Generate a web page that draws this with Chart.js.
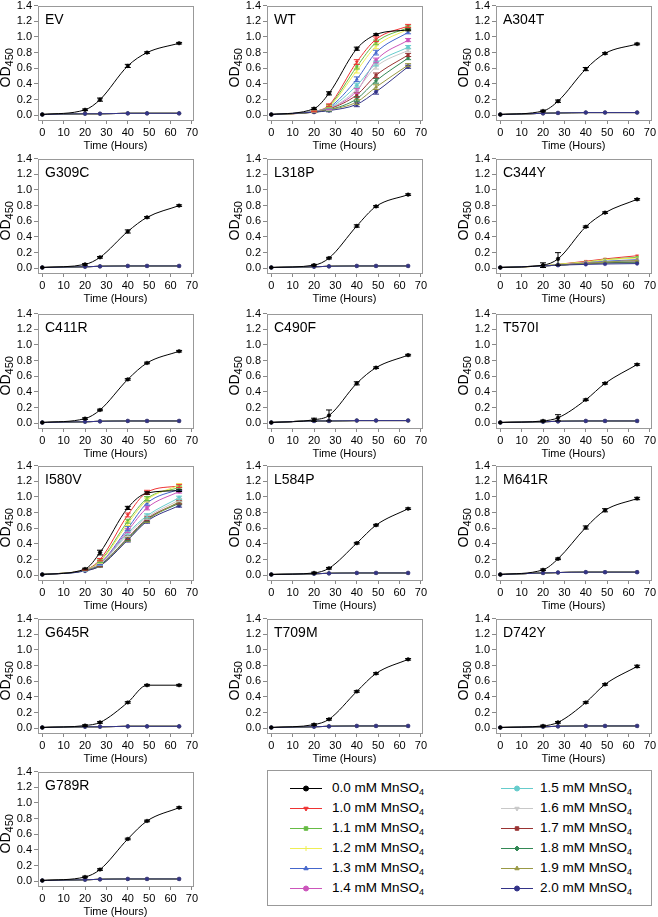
<!DOCTYPE html>
<html>
<head>
<meta charset="utf-8">
<script src="https://cdn.jsdelivr.net/npm/chart.js@4.4.1/dist/chart.umd.min.js"></script>
<style>
  body { margin: 0; background: #fff; width: 658px; height: 917px; position: relative; overflow: hidden;
         font-family: "Liberation Sans", Arial, sans-serif; }
  canvas.panel { position: absolute; }
  #legend { position: absolute; left: 267px; top: 770px; width: 385px; height: 136px;
            border: 1px solid #999; box-sizing: border-box; }
  .item { position: absolute; height: 18px; }
  .item canvas { position: absolute; left: 0; top: 0; }
  .item span { position: absolute; top: 0; line-height: 18px; font-size: 13.5px; white-space: nowrap; color: #000; }
  .item sub { font-size: 9px; vertical-align: -3px; line-height: 0; }
</style>
</head>
<body>
<div id="legend"></div>
<script>
// Time points (hours) and tick labels
const hours = [0, 20, 27, 40, 49, 64];
const xTicks = [0, 10, 20, 30, 40, 50, 60, 70];
const yTicks = [0, 0.2, 0.4, 0.6, 0.8, 1.0, 1.2, 1.4];
const concLabels = ['0.0', '1.0', '1.1', '1.2', '1.3', '1.4', '1.5', '1.6', '1.7', '1.8', '1.9', '2.0'];

// 0.0 mM MnSO4 curves (black) per strain
const ev0 = [0.01, 0.07, 0.20, 0.63, 0.80, 0.92];
const a304t0 = [0.01, 0.055, 0.18, 0.59, 0.79, 0.91];
const g309c0 = [0.01, 0.05, 0.14, 0.47, 0.65, 0.80];
const l318p0 = [0.01, 0.04, 0.13, 0.54, 0.79, 0.94];
const c411r0 = [0.01, 0.06, 0.17, 0.56, 0.77, 0.92];
const c490f0 = [0.01, 0.045, 0.10, 0.51, 0.71, 0.87];
const t570i0 = [0.01, 0.03, 0.07, 0.30, 0.51, 0.75];
const l584p0 = [0.01, 0.03, 0.09, 0.41, 0.64, 0.85];
const m641r0 = [0.01, 0.07, 0.21, 0.61, 0.83, 0.98];
const g645r0 = [0.01, 0.035, 0.075, 0.33, 0.55, 0.55];
const t709m0 = [0.01, 0.047, 0.115, 0.47, 0.70, 0.88];
const d742y0 = [0.01, 0.03, 0.076, 0.33, 0.56, 0.79];
const g789r0 = [0.01, 0.055, 0.15, 0.54, 0.77, 0.94];

// 1.0 - 2.0 mM curves lie on top of each other near zero in these strains
const evLow = [0.01, 0.02, 0.02, 0.025, 0.025, 0.025];
const a304tLow = [0.01, 0.025, 0.03, 0.035, 0.035, 0.035];
const g309cLow = [0.01, 0.02, 0.025, 0.03, 0.03, 0.03];
const l318pLow = [0.01, 0.02, 0.025, 0.03, 0.03, 0.03];
const c411rLow = [0.01, 0.02, 0.025, 0.03, 0.03, 0.03];
const c490fLow = [0.01, 0.03, 0.03, 0.035, 0.035, 0.035];
const t570iLow = [0.01, 0.02, 0.025, 0.03, 0.03, 0.03];
const l584pLow = [0.01, 0.02, 0.025, 0.03, 0.03, 0.03];
const m641rLow = [0.01, 0.03, 0.035, 0.04, 0.04, 0.04];
const g645rLow = [0.01, 0.02, 0.02, 0.025, 0.025, 0.025];
const t709mLow = [0.01, 0.02, 0.025, 0.03, 0.03, 0.03];
const d742yLow = [0.01, 0.02, 0.025, 0.03, 0.03, 0.03];
const g789rLow = [0.01, 0.02, 0.025, 0.03, 0.03, 0.03];

// WT, one list per concentration (0.0 ... 2.0 mM)
const wtSeries = [
  [0.01, 0.085, 0.28, 0.85, 1.03, 1.09],
  [0.01, 0.05, 0.13, 0.68, 0.97, 1.14],
  [0.01, 0.05, 0.12, 0.62, 0.93, 1.12],
  [0.01, 0.05, 0.11, 0.57, 0.88, 1.10],
  [0.01, 0.05, 0.10, 0.46, 0.80, 1.06],
  [0.01, 0.045, 0.09, 0.31, 0.70, 0.96],
  [0.01, 0.045, 0.09, 0.38, 0.66, 0.87],
  [0.01, 0.045, 0.08, 0.33, 0.62, 0.83],
  [0.01, 0.04, 0.08, 0.26, 0.51, 0.77],
  [0.01, 0.04, 0.07, 0.21, 0.44, 0.73],
  [0.01, 0.04, 0.07, 0.17, 0.36, 0.64],
  [0.01, 0.04, 0.06, 0.14, 0.30, 0.62]
];

// I580V
const i580vSeries = [
  [0.01, 0.08, 0.29, 0.86, 1.05, 1.08],
  [0.01, 0.07, 0.20, 0.77, 1.06, 1.14],
  [0.01, 0.07, 0.18, 0.69, 0.98, 1.12],
  [0.01, 0.07, 0.17, 0.66, 0.96, 1.15],
  [0.01, 0.065, 0.15, 0.60, 0.92, 1.10],
  [0.01, 0.065, 0.15, 0.57, 0.86, 1.07],
  [0.01, 0.06, 0.14, 0.54, 0.76, 0.99],
  [0.01, 0.06, 0.14, 0.52, 0.74, 0.96],
  [0.01, 0.06, 0.13, 0.48, 0.72, 0.93],
  [0.01, 0.06, 0.13, 0.47, 0.71, 0.92],
  [0.01, 0.06, 0.12, 0.46, 0.70, 0.94],
  [0.01, 0.055, 0.12, 0.45, 0.69, 0.89]
];

// C344Y
const c344ySeries = [
  [0.01, 0.04, 0.12, 0.53, 0.71, 0.88],
  [0.01, 0.03, 0.05, 0.09, 0.12, 0.16],
  [0.01, 0.03, 0.05, 0.08, 0.11, 0.14],
  [0.01, 0.03, 0.05, 0.08, 0.11, 0.13],
  [0.01, 0.03, 0.04, 0.07, 0.09, 0.11],
  [0.01, 0.03, 0.04, 0.07, 0.08, 0.10],
  [0.01, 0.03, 0.04, 0.06, 0.08, 0.09],
  [0.01, 0.03, 0.04, 0.06, 0.07, 0.08],
  [0.01, 0.03, 0.04, 0.06, 0.07, 0.08],
  [0.01, 0.03, 0.04, 0.06, 0.07, 0.07],
  [0.01, 0.03, 0.04, 0.06, 0.08, 0.10],
  [0.01, 0.03, 0.04, 0.05, 0.055, 0.06]
];

// Error bar half-heights for the black curves
const ev0Err = [0, 0.01, 0.02, 0.02, 0.01, 0.01];
const wt0Err = [0, 0.01, 0.02, 0.02, 0.01, 0.01];
const a304t0Err = [0, 0.01, 0.015, 0.02, 0.01, 0.01];
const g309c0Err = [0, 0.01, 0.01, 0.02, 0.01, 0.01];
const l318p0Err = [0, 0.01, 0.01, 0.015, 0.01, 0.01];
const c344y0Err = [0, 0.03, 0.08, 0.01, 0.01, 0.01];
const c411r0Err = [0, 0.01, 0.01, 0.01, 0.01, 0.01];
const c490f0Err = [0, 0.02, 0.07, 0.02, 0.01, 0.01];
const t570i0Err = [0, 0.01, 0.04, 0.01, 0.01, 0.01];
const i580v0Err = [0, 0.01, 0.03, 0.02, 0.015, 0.01];
const l584p0Err = [0, 0.01, 0.01, 0.01, 0.01, 0.01];
const m641r0Err = [0, 0.01, 0.01, 0.02, 0.02, 0.015];
const g645r0Err = [0, 0.01, 0.01, 0.01, 0.01, 0.01];
const t709m0Err = [0, 0.01, 0.01, 0.01, 0.01, 0.01];
const d742y0Err = [0, 0.01, 0.01, 0.01, 0.01, 0.015];
const g789r0Err = [0, 0.01, 0.01, 0.01, 0.01, 0.01];
// colored curves in WT / I580V
const wtRestErr = [0, 0.005, 0.015, 0.03, 0.03, 0.02];
const i580vRestErr = [0, 0.005, 0.015, 0.025, 0.025, 0.02];

// Series styles
const colors = ['#000000', '#ee3333', '#66bb44', '#eeee55', '#4466cc', '#cc55bb',
                '#66cccc', '#c8c8c8', '#993333', '#338855', '#999944', '#333388'];
const pointStyles = ['circle', 'triangle', 'rect', 'cross', 'triangle', 'circle',
                     'circle', 'triangle', 'rect', 'rectRot', 'triangle', 'circle'];
const pointRotations = [0, 180, 0, 0, 0, 0, 0, 180, 0, 0, 0, 0];

// Black curve + 11 overlapping low curves
function withLow(black, low) {
  const list = [black];
  for (let k = 1; k < concLabels.length; k++) list.push(low);
  return list;
}

const panels = [
  { name: 'EV', series: withLow(ev0, evLow), err0: ev0Err },
  { name: 'WT', series: wtSeries, err0: wt0Err, errRest: wtRestErr },
  { name: 'A304T', series: withLow(a304t0, a304tLow), err0: a304t0Err },
  { name: 'G309C', series: withLow(g309c0, g309cLow), err0: g309c0Err },
  { name: 'L318P', series: withLow(l318p0, l318pLow), err0: l318p0Err },
  { name: 'C344Y', series: c344ySeries, err0: c344y0Err },
  { name: 'C411R', series: withLow(c411r0, c411rLow), err0: c411r0Err },
  { name: 'C490F', series: withLow(c490f0, c490fLow), err0: c490f0Err },
  { name: 'T570I', series: withLow(t570i0, t570iLow), err0: t570i0Err },
  { name: 'I580V', series: i580vSeries, err0: i580v0Err, errRest: i580vRestErr },
  { name: 'L584P', series: withLow(l584p0, l584pLow), err0: l584p0Err },
  { name: 'M641R', series: withLow(m641r0, m641rLow), err0: m641r0Err },
  { name: 'G645R', series: withLow(g645r0, g645rLow), err0: g645r0Err },
  { name: 'T709M', series: withLow(t709m0, t709mLow), err0: t709m0Err },
  { name: 'D742Y', series: withLow(d742y0, d742yLow), err0: d742y0Err },
  { name: 'G789R', series: withLow(g789r0, g789rLow), err0: g789r0Err }
];

// Panel grid
const colLeft = [0, 215, 430];
const axisWidth = [38, 52, 66];
const rowTop = [5, 158, 313, 465, 618, 771];
const plotW = 155;
const padTop = 8;
const xAxisH = 36;
const canvasH = 159;

const FONT = '"Liberation Sans", Arial, sans-serif';
Chart.defaults.font.family = FONT;
Chart.defaults.color = '#000';

// Frame, panel name and OD450 axis title
const panelDecor = {
  id: 'panelDecor',
  afterDraw(chart, args, opts) {
    const { ctx, chartArea: a } = chart;
    ctx.save();
    ctx.strokeStyle = '#999';
    ctx.lineWidth = 1;
    ctx.strokeRect(Math.round(a.left) + 0.5, Math.round(a.top) + 0.5,
                   Math.round(a.right - a.left), Math.round(a.bottom - a.top));

    ctx.fillStyle = '#000';
    ctx.font = '14px ' + FONT;
    ctx.textBaseline = 'top';
    ctx.textAlign = 'left';
    ctx.fillText(opts.name, a.left + 7, a.top + 8);

    // OD with subscript 450, rotated
    ctx.translate(a.left - 32, (a.top + a.bottom) / 2 + 5);
    ctx.rotate(-Math.PI / 2);
    ctx.textBaseline = 'middle';
    ctx.font = '14px ' + FONT;
    const w1 = ctx.measureText('OD').width;
    ctx.font = '11px ' + FONT;
    const w2 = ctx.measureText('450').width;
    const x0 = -(w1 + w2) / 2;
    ctx.font = '14px ' + FONT;
    ctx.fillText('OD', x0, 0);
    ctx.font = '11px ' + FONT;
    ctx.fillText('450', x0 + w1, 4);
    ctx.restore();
  }
};

// Vertical error bars with caps
const errorBars = {
  id: 'errorBars',
  afterDatasetsDraw(chart) {
    const { ctx } = chart;
    const ys = chart.scales.y;
    for (let k = chart.data.datasets.length - 1; k >= 0; k--) {
      const ds = chart.data.datasets[k];
      if (!ds.errors) continue;
      const meta = chart.getDatasetMeta(k);
      ctx.save();
      ctx.strokeStyle = ds.borderColor;
      ctx.lineWidth = 1;
      meta.data.forEach((pt, j) => {
        const e = ds.errors[j];
        if (!e) return;
        const v = ds.data[j].y;
        const top = ys.getPixelForValue(v + e);
        const bot = ys.getPixelForValue(v - e);
        ctx.beginPath();
        ctx.moveTo(pt.x, top); ctx.lineTo(pt.x, bot);
        ctx.moveTo(pt.x - 3, top); ctx.lineTo(pt.x + 3, top);
        ctx.moveTo(pt.x - 3, bot); ctx.lineTo(pt.x + 3, bot);
        ctx.stroke();
      });
      ctx.restore();
    }
  }
};

function makePanel(p, i) {
  const col = i % 3;
  const row = Math.floor(i / 3);
  const w = axisWidth[col] + plotW + 8;
  const cv = document.createElement('canvas');
  cv.className = 'panel';
  cv.width = w;
  cv.height = canvasH;
  cv.style.left = colLeft[col] + 'px';
  cv.style.top = (rowTop[row] - padTop) + 'px';
  cv.style.width = w + 'px';
  cv.style.height = canvasH + 'px';
  document.body.appendChild(cv);

  const datasets = p.series.map((vals, k) => ({
    label: concLabels[k] + ' mM MnSO4',
    data: vals.map((v, j) => ({ x: hours[j], y: v })),
    errors: k === 0 ? p.err0 : p.errRest,
    borderColor: colors[k],
    backgroundColor: colors[k],
    borderWidth: 1,
    pointRadius: 1.8,
    pointBorderWidth: 0.5,
    pointStyle: pointStyles[k],
    rotation: pointRotations[k],
    cubicInterpolationMode: 'monotone',
    order: k === 0 ? 0 : 12 - k
  }));

  new Chart(cv, {
    type: 'line',
    data: { datasets },
    options: {
      responsive: false,
      animation: false,
      events: [],
      layout: { padding: { top: padTop, right: 8, left: 0, bottom: 0 } },
      scales: {
        x: {
          type: 'linear',
          min: -2, max: 70.5,
          afterBuildTicks: s => { s.ticks = xTicks.map(v => ({ value: v })); },
          afterFit: s => { s.height = xAxisH; },
          grid: { drawOnChartArea: false, tickLength: 4, color: '#888' },
          border: { display: false },
          ticks: { font: { size: 11 }, padding: 2, maxRotation: 0, autoSkip: false, callback: v => v },
          title: { display: true, text: 'Time (Hours)', font: { size: 11 }, padding: { top: 0, bottom: 3 } }
        },
        y: {
          min: -0.06, max: 1.4,
          afterBuildTicks: s => { s.ticks = yTicks.map(v => ({ value: v })); },
          afterFit: s => { s.width = axisWidth[col]; },
          grid: { drawOnChartArea: false, tickLength: 4, color: '#888' },
          border: { display: false },
          ticks: { font: { size: 11 }, padding: 2, autoSkip: false, callback: v => v.toFixed(1) }
        }
      },
      plugins: {
        legend: { display: false },
        tooltip: { enabled: false },
        panelDecor: { name: p.name }
      }
    },
    plugins: [errorBars, panelDecor]
  });
}

// Legend box (line + marker, label with subscript)
function buildLegend() {
  const box = document.getElementById('legend');
  concLabels.forEach((c, k) => {
    const col = k < 6 ? 0 : 1;
    const r = k % 6;
    const item = document.createElement('div');
    item.className = 'item';
    item.style.left = (col === 0 ? 22 : 233) + 'px';
    item.style.top = (8 + r * 20) + 'px';
    const cv = document.createElement('canvas');
    cv.width = 34; cv.height = 18;
    const ctx = cv.getContext('2d');
    ctx.strokeStyle = colors[k];
    ctx.fillStyle = colors[k];
    ctx.lineWidth = 1;
    ctx.beginPath();
    ctx.moveTo(0, 9.5); ctx.lineTo(32, 9.5);
    ctx.stroke();
    Chart.helpers.drawPoint(ctx, { pointStyle: pointStyles[k], radius: 2.5, rotation: pointRotations[k], borderWidth: 0.5 }, 16, 9.5);
    item.appendChild(cv);
    const span = document.createElement('span');
    span.style.left = (col === 0 ? 42 : 39) + 'px';
    span.innerHTML = c + ' mM MnSO<sub>4</sub>';
    item.appendChild(span);
    box.appendChild(item);
  });
}

panels.forEach(makePanel);
buildLegend();
</script>
</body>
</html>
